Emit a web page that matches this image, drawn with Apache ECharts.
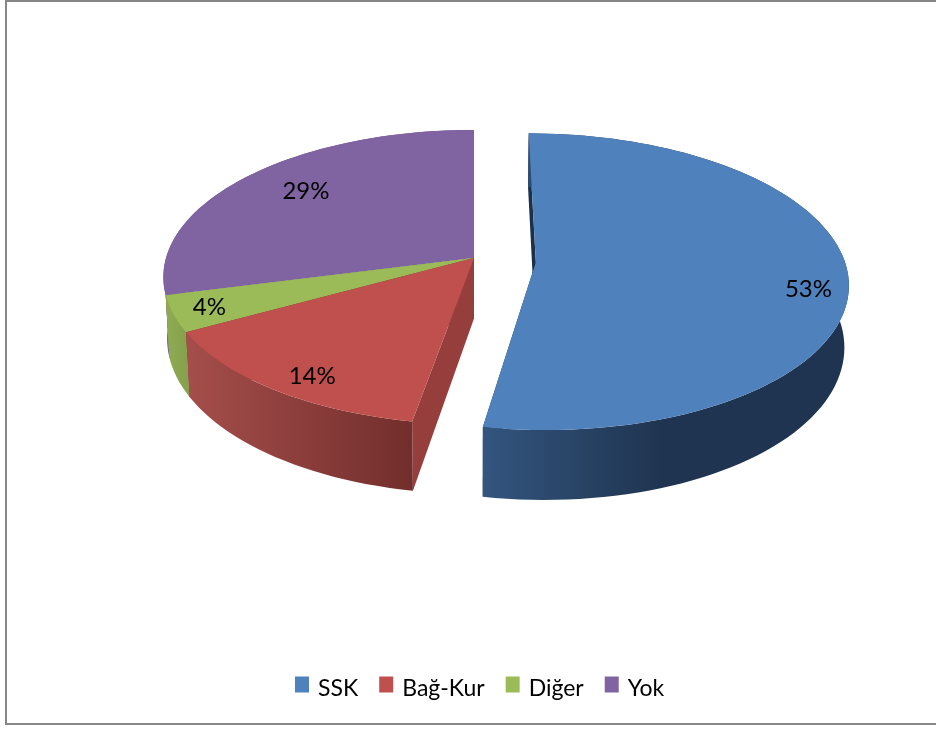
<!DOCTYPE html>
<html>
<head>
<meta charset="utf-8">
<style>html,body{margin:0;padding:0;background:#fff}#c{width:936px;height:729px}</style>
<script src="https://cdn.jsdelivr.net/npm/echarts@6/dist/echarts.min.js"></script>
</head>
<body>
<div id="c"></div>
<script>
// Data
var categories = ['SSK', 'Bağ-Kur', 'Diğer', 'Yok'];
var values = [52.8, 14.2, 4, 29];

// Styles
var topColors = ['#4f81bd', '#c0504d', '#9bbb59', '#8064a2'];
var faceColors = ['#1b3049', '#963e3c', '#7f9a48', '#654f81'];
var wallStops = [
  [[0, '#33557e'], [0.49, '#1f3450'], [1, '#1f3450']],
  [[0, '#a54e4b'], [1, '#722e2c']],
  [[0, '#8fab52'], [1, '#84a04c']],
  [[0, '#6a5387'], [1, '#6a5387']]
];
var FONT = 'Lato, Carlito, "Open Sans", sans-serif';

// Projection of the tilted pie (perspective): u to the right, v toward viewer
var CX = 474, CY = 258, R = 308, B = 144.7, K = 0.13, DEPTH = 60.5, BOTTOM_SCALE = 0.988;
var explode = [[0.2, 0.03], [0, 0], [0, 0], [0, 0]];
var labelReach = [0.875, 0.88, 0.885, 0.76];
var labelTurn = [6.8, -3, 0, 2.4];
var total = values.reduce(function (a, b) { return a + b; }, 0);

function project(u, v, down) {
  var w = 1 / (1 - K * v);
  return [CX + R * u * w * (down ? BOTTOM_SCALE : 1), CY + (B * v + (down ? DEPTH : 0)) * w];
}
function plane(i, deg, r) {
  var t = deg * Math.PI / 180;
  return [explode[i][0] + r * Math.sin(t), explode[i][1] - r * Math.cos(t)];
}
function pt(i, deg, r, down) {
  var p = plane(i, deg, r);
  return project(p[0], p[1], down);
}
function arc(i, a0, a1, down) {
  var pts = [], n = Math.max(4, Math.ceil(Math.abs(a1 - a0) / 2));
  for (var j = 0; j <= n; j++) pts.push(pt(i, a0 + (a1 - a0) * j / n, 1, down));
  return pts;
}
function poly(points, fill) {
  return { type: 'polygon', shape: { points: points }, style: { fill: fill, stroke: null } };
}
function startAngle(i) {
  var s = 0;
  for (var j = 0; j < i; j++) s += values[j];
  return s / total * 360;
}
function makeRender(i) {
  return function (params, api) {
    var val = api.value(0);
    var a0 = startAngle(i), a1 = a0 + val / total * 360;
    var apex = pt(i, 0, 0, false), apexD = pt(i, 0, 0, true);
    var topArc = arc(i, a0, a1, false), botArc = arc(i, a0, a1, true);
    var stops = wallStops[i].map(function (s) { return { offset: s[0], color: s[1] }; });
    var wall = poly(topArc.concat(botArc.slice().reverse()), {
      type: 'linear', x: 0, y: 0, x2: 1, y2: 0, colorStops: stops
    });
    var children = [
      poly([apex, pt(i, a0, 1, false), pt(i, a0, 1, true), apexD], faceColors[i]),
      poly([apex, pt(i, a1, 1, false), pt(i, a1, 1, true), apexD], faceColors[i]),
      wall,
      poly([apex].concat(topArc), topColors[i])
    ];
    var lp = pt(i, (a0 + a1) / 2 + labelTurn[i], labelReach[i], false);
    children.push({
      type: 'text',
      style: {
        text: Math.round(val) + '%', x: lp[0], y: lp[1], fill: '#000',
        fontSize: 24, fontFamily: FONT, align: 'center', verticalAlign: 'middle'
      }
    });
    return { type: 'group', children: children };
  };
}

// Back-to-front paint order
var paintOrder = [3, 2, 1, 0];
var series = paintOrder.map(function (i) {
  return {
    type: 'custom',
    name: categories[i],
    coordinateSystem: 'none',
    itemStyle: { color: topColors[i] },
    renderItem: makeRender(i),
    data: [[values[i]]],
    silent: true
  };
});

var chart = echarts.init(document.getElementById('c'), null, { renderer: 'canvas' });
chart.setOption({
  animation: false,
  backgroundColor: '#fff',
  graphic: [{
    type: 'rect',
    shape: { x: 6, y: 1, width: 940, height: 723 },
    style: { fill: 'none', stroke: '#868686', lineWidth: 2 },
    silent: true
  }],
  legend: {
    data: categories,
    left: 295,
    top: 673,
    icon: 'rect',
    itemWidth: 14,
    itemHeight: 16,
    itemGap: 21,
    padding: 0,
    selectedMode: false,
    formatter: '{s| }{t|{name}}',
    textStyle: {
      fontFamily: FONT, fontSize: 23, color: '#000',
      rich: {
        s: { height: 32, width: 4, fontSize: 23 },
        t: { fontFamily: FONT, fontSize: 23, color: '#000', lineHeight: 26, verticalAlign: 'bottom' }
      }
    }
  },
  series: series
});
</script>
</body>
</html>
